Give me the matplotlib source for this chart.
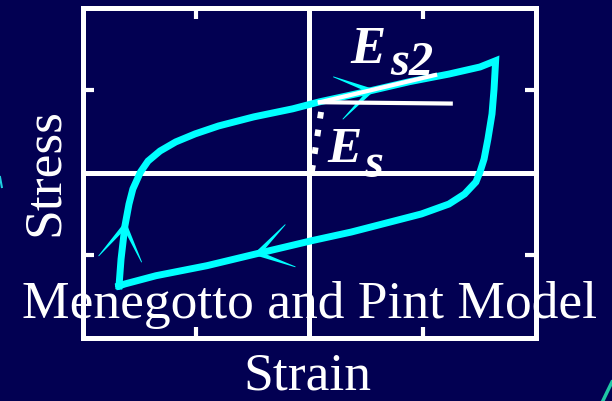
import numpy as np
import matplotlib.pyplot as plt
from matplotlib.lines import Line2D

# hysteresis loop (normalised strain / stress), traced counter-clockwise
strain = [-0.839, -0.830, -0.813, -0.795, -0.778, -0.744, -0.711, -0.658, -0.589,
          -0.503, -0.400, -0.245, -0.073, 0.047, 0.271, 0.443, 0.616, 0.753, 0.822,
          0.815, 0.806, 0.788, 0.771, 0.753, 0.735, 0.685, 0.616, 0.495, 0.357,
          0.185, 0.012, -0.227, -0.451, -0.676, -0.813, -0.839]
stress = [-0.687, -0.524, -0.323, -0.190, -0.099, 0.005, 0.071, 0.132, 0.187,
          0.236, 0.284, 0.339, 0.388, 0.431, 0.498, 0.553, 0.599, 0.642, 0.680,
          0.508, 0.357, 0.205, 0.083, 0.005, -0.056, -0.129, -0.190, -0.250, -0.299,
          -0.360, -0.412, -0.490, -0.564, -0.625, -0.675, -0.687]
arrow_idx = [14, 31, 2]          # where the direction chevrons sit on the loop

# reloading point and the two moduli
origin = (0.047, 0.428)
es2_end = (0.555, 0.593)
horiz_end = (0.624, 0.420)
es_line = ([0.052, 0.012], [0.369, 0.011])

ticks = [-0.5, 0.5]

BG = '#020052'
CYAN = '#00ffff'
W = 'white'

fig = plt.figure(figsize=(6.12, 4.02), dpi=100, facecolor=BG)
ax = fig.add_axes([82.5 / 612, 1 - 338.5 / 402, 453.5 / 612, 329.5 / 402])
ax.set_facecolor(BG)
ax.set_xlim(-1, 1)
ax.set_ylim(-1, 1)

for s in ax.spines.values():
    s.set_color(W)
    s.set_linewidth(3.6)
ax.set_xticks(ticks)
ax.set_yticks(ticks)
ax.tick_params(direction='in', length=8, width=3, color=W,
               top=True, right=True, labelbottom=False, labelleft=False)
ax.axhline(0, color=W, lw=3.6, zorder=1)
ax.axvline(0, color=W, lw=3.6, zorder=1)

ax.plot(strain, stress, color=CYAN, lw=5, solid_joinstyle='miter', zorder=3)

# chevron arrowheads along the loop: two tapered barbs each
xy = ax.transData.transform(np.column_stack([strain, stress]))
inv = ax.transData.inverted()
for i in arrow_idx:
    d = xy[i + 1] - xy[i - 1]
    back = np.arctan2(-d[1], -d[0])
    for a in (np.radians(33), -np.radians(33)):
        u = np.array([np.cos(back + a), np.sin(back + a)])
        n = np.array([-u[1], u[0]])
        tip = xy[i] + 40 * u
        poly = np.array([xy[i] + 2.5 * n, tip + 0.4 * n, tip - 0.4 * n, xy[i] - 2.5 * n])
        p = inv.transform(poly)
        ax.fill(p[:, 0], p[:, 1], color=CYAN, lw=0, zorder=3)

# moduli construction
ax.plot([origin[0], horiz_end[0]], [origin[1], horiz_end[1]], color=W, lw=3,
        solid_capstyle='projecting', zorder=4)
ax.plot([origin[0], es2_end[0]], [origin[1], es2_end[1]], color=W, lw=3,
        solid_capstyle='projecting', zorder=4)
ax.plot(es_line[0], es_line[1], color=W, lw=4.3, dashes=(1.1, 1.9),
        dash_capstyle='butt', zorder=4)


def px(x, y):
    return x / 612, 1 - y / 402


serif_bi = dict(family='Liberation Serif', weight='bold', style='italic', color=W)
fig.text(*px(350, 63), 'E', fontsize=38, ha='left', va='baseline', **serif_bi)
fig.text(*px(390, 75), 's2', fontsize=35, ha='left', va='baseline', **serif_bi)
fig.text(*px(327, 162), 'E', fontsize=37, ha='left', va='baseline', **serif_bi)
fig.text(*px(364, 177), 's', fontsize=35, ha='left', va='baseline', **serif_bi)

serif = dict(family='Liberation Serif', color=W)
fig.text(*px(310, 318), 'Menegotto and Pint Model', fontsize=38.5, ha='center',
         va='baseline', zorder=10, **serif)
fig.text(*px(307, 390), 'Strain', fontsize=38.5, ha='center', va='baseline', **serif)
fig.text(*px(58, 172), 'Stress', fontsize=38.5, ha='center', va='baseline',
         rotation=90, rotation_mode='anchor', **serif)

# slide decoration at the edges
fig.add_artist(Line2D([1.0, 0.992, 0.985], [1 - 383 / 402, 1 - 393 / 402, 0.0],
                      color='#1fc7a5', lw=2.5, transform=fig.transFigure))
fig.add_artist(Line2D([0.0, 0.003], [1 - 178 / 402, 1 - 188 / 402],
                      color='#1fd0e0', lw=1.5, transform=fig.transFigure))

fig.savefig('out.png', dpi=100, facecolor=BG)
